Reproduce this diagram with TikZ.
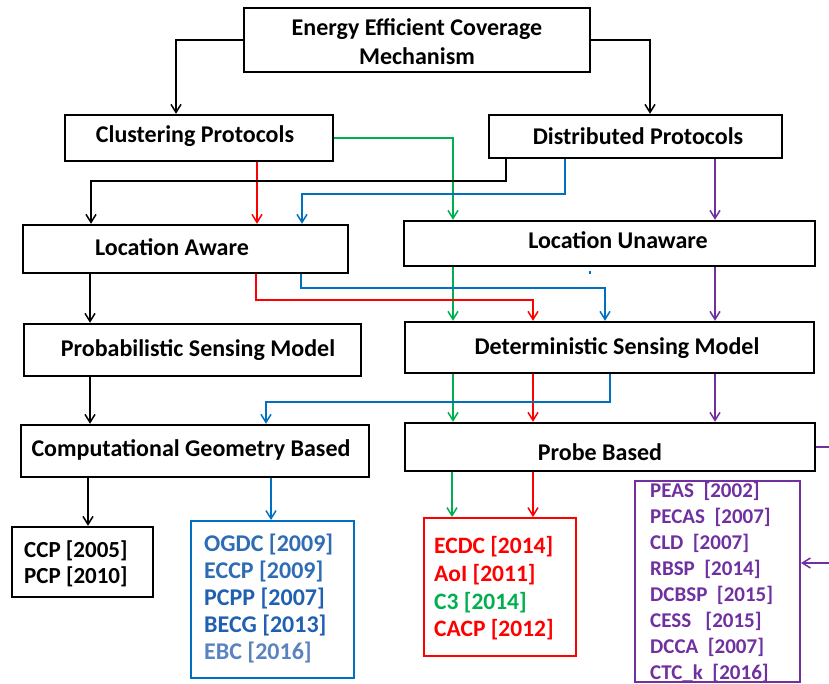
\documentclass[tikz,border=0pt]{standalone}
\usepackage{fontspec}
\setmainfont{Carlito}
\usetikzlibrary{arrows.meta}
\definecolor{cgreen}{HTML}{00B050}
\definecolor{cred}{HTML}{FF0000}
\definecolor{cblue}{HTML}{0070C0}
\definecolor{cpurple}{HTML}{7030A0}
\definecolor{tblueA}{HTML}{2E6DB5}
\definecolor{tblueB}{HTML}{2060B0}
\definecolor{tblueC}{HTML}{5A83C0}
\definecolor{tpurple}{HTML}{7030A0}
\newcommand\mybox[5]{\node[boxst, minimum width=#4pt, minimum height=#5pt] (#1) at (#2,#3) {};}
\begin{document}
\begin{tikzpicture}[x=1pt,y=-1pt,
  boxst/.style={draw, line width=2.4pt, inner sep=0pt},
  lab/.style={font=\bfseries\fontsize{24}{29}\selectfont, align=center, inner sep=0pt},
  lst/.style={font=\bfseries\fontsize{23.5}{27}\selectfont, align=left, anchor=west, inner sep=0pt},
  conn/.style={line width=1.5pt, -{Straight Barb[length=8pt,width=10pt,line width=1.5pt]}},
  plain/.style={line width=1.5pt}]
\useasboundingbox (0,0) rectangle (829,684);
\clip (0,0) rectangle (829,684);
% boxes
\mybox{top}{417}{40}{346}{64}
\mybox{clus}{199}{138}{268}{46}
\mybox{dist}{635.5}{136.5}{293}{43}
\mybox{locA}{185.5}{249}{325}{48}
\mybox{locU}{609.5}{243.5}{411}{45}
\mybox{prob}{192.5}{350}{337}{52}
\mybox{det}{609.5}{347.5}{409}{51}
\mybox{comp}{195}{451}{348}{52}
\mybox{probe}{610}{447}{410}{48}
\node[draw, line width=2.4pt, minimum width=141pt, minimum height=70pt] (ccp) at (82.5,562) {};
\node[draw=cblue, line width=2pt, minimum width=163pt, minimum height=157pt] (bbox) at (272.5,599.5) {};
\node[draw=cred, line width=2pt, minimum width=152pt, minimum height=138pt] (rbox) at (500,587) {};
\node[draw=cpurple, line width=2pt, minimum width=165pt, minimum height=201pt] (pbox) at (717.5,581.5) {};
% labels
\node[lab] (tTop) at (417,41.5) {Energy Efficient Coverage\\Mechanism};
\node[lab] (tClus) at (195,136) {Clustering Protocols};
\node[lab] (tDist) at (638,136) {Distributed Protocols};
\node[lab] (tLocA) at (172,247) {Location Aware};
\node[lab] (tLocU) at (618,240) {Location Unaware};
\node[lab] (tProb) at (198,350) {Probabilistic Sensing Model};
\node[lab] (tDet) at (617,348) {Deterministic Sensing Model};
\node[lab] (tComp) at (191,450) {Computational Geometry Based};
\node[lab] (tProbe) at (600,452) {Probe Based};
\node[lst, font=\bfseries\fontsize{23}{26}\selectfont] (tCcp) at (24,564) {CCP [2005]\\PCP [2010]};
\node[lst, font=\bfseries\fontsize{24}{27}\selectfont] (tBlue) at (204,599) {\textcolor{tblueA}{OGDC [2009]}\\\textcolor{tblueA}{ECCP [2009]}\\\textcolor{tblueB}{PCPP [2007]}\\\textcolor{tblueB}{BECG [2013]}\\\textcolor{tblueC}{EBC [2016]}};
\node[lst, font=\bfseries\fontsize{23.5}{27.7}\selectfont] (tRed) at (434,588.5) {\textcolor{cred}{ECDC [2014]}\\\textcolor{cred}{AoI [2011]}\\\textcolor{cgreen}{C3 [2014]}\\\textcolor{cred}{CACP [2012]}};
\node[lst, text=tpurple, font=\bfseries\fontsize{21}{25.9}\selectfont] (tPur) at (650,582.5) {PEAS~~[2002]\\PECAS~~[2007]\\CLD~~[2007]\\RBSP~~[2014]\\DCBSP~~[2015]\\CESS~~~[2015]\\DCCA~~[2007]\\CTC\_k~~[2016]};
% connectors
\draw[conn] (top.west) -| ([xshift=-23pt]clus.north);
\draw[conn] (top.east) -| ([xshift=14.5pt]dist.north);
\draw[conn, cgreen] (clus.east) -| ([xshift=-156.5pt]locU.north);
\coordinate (r1) at ([xshift=58pt]clus.south);
\draw[conn, cred] (r1) -- (r1 |- locA.north);
\draw[conn] ([xshift=-129.5pt]dist.south) -- ++(0,22) -| ([xshift=-94.5pt]locA.north);
\draw[conn, cblue] ([xshift=-70.5pt]dist.south) -- ++(0,35) -| ([xshift=116.5pt]locA.north);
\coordinate (p1) at ([xshift=79.5pt]dist.south);
\draw[conn, cpurple] (p1) -- (p1 |- locU.north);
\coordinate (b1) at ([xshift=-95.5pt]locA.south);
\draw[conn] (b1) -- (b1 |- prob.north);
\coordinate (g1) at ([xshift=-156.5pt]locU.south);
\draw[conn, cgreen] (g1) -- (g1 |- det.north);
\draw[conn, cred] ([xshift=70.5pt]locA.south) -- ++(0,26) -| ([xshift=-76.5pt]det.north);
\draw[conn, cblue] ([xshift=115.5pt]locA.south) -- ++(0,14) -| ([xshift=-4.5pt]det.north);
\coordinate (p2) at ([xshift=105.5pt]locU.south);
\draw[conn, cpurple] (p2) -- (p2 |- det.north);
\draw[plain, cblue] ([xshift=-19.5pt,yshift=-4pt]locU.south) -- ++(0,3);
\coordinate (b2) at ([xshift=-102.5pt]prob.south);
\draw[conn] (b2) -- (b2 |- comp.north);
\coordinate (g2) at ([xshift=-156.5pt]det.south);
\draw[conn, cgreen] (g2) -- (g2 |- probe.north);
\coordinate (r2) at ([xshift=-76.5pt]det.south);
\draw[conn, cred] (r2) -- (r2 |- probe.north);
\coordinate (p3) at ([xshift=105.5pt]det.south);
\draw[conn, cpurple] (p3) -- (p3 |- probe.north);
\draw[conn, cblue] ([xshift=0.5pt]det.south) -- ++(0,28) -| ([xshift=71pt]comp.north);
\coordinate (b3) at ([xshift=-107pt]comp.south);
\draw[conn] (b3) -- (b3 |- ccp.north);
\coordinate (bl3) at ([xshift=76pt]comp.south);
\draw[conn, cblue] (bl3) -- (bl3 |- bbox.north);
\coordinate (g3) at ([xshift=-158pt]probe.south);
\draw[conn, cgreen] (g3) -- (g3 |- rbox.north);
\coordinate (r3) at ([xshift=-77pt]probe.south);
\draw[conn, cred] (r3) -- (r3 |- rbox.north);
\draw[conn, cpurple] (probe.east) -- ++(30,0) |- ([yshift=18.5pt]pbox.east);
\end{tikzpicture}
\end{document}
